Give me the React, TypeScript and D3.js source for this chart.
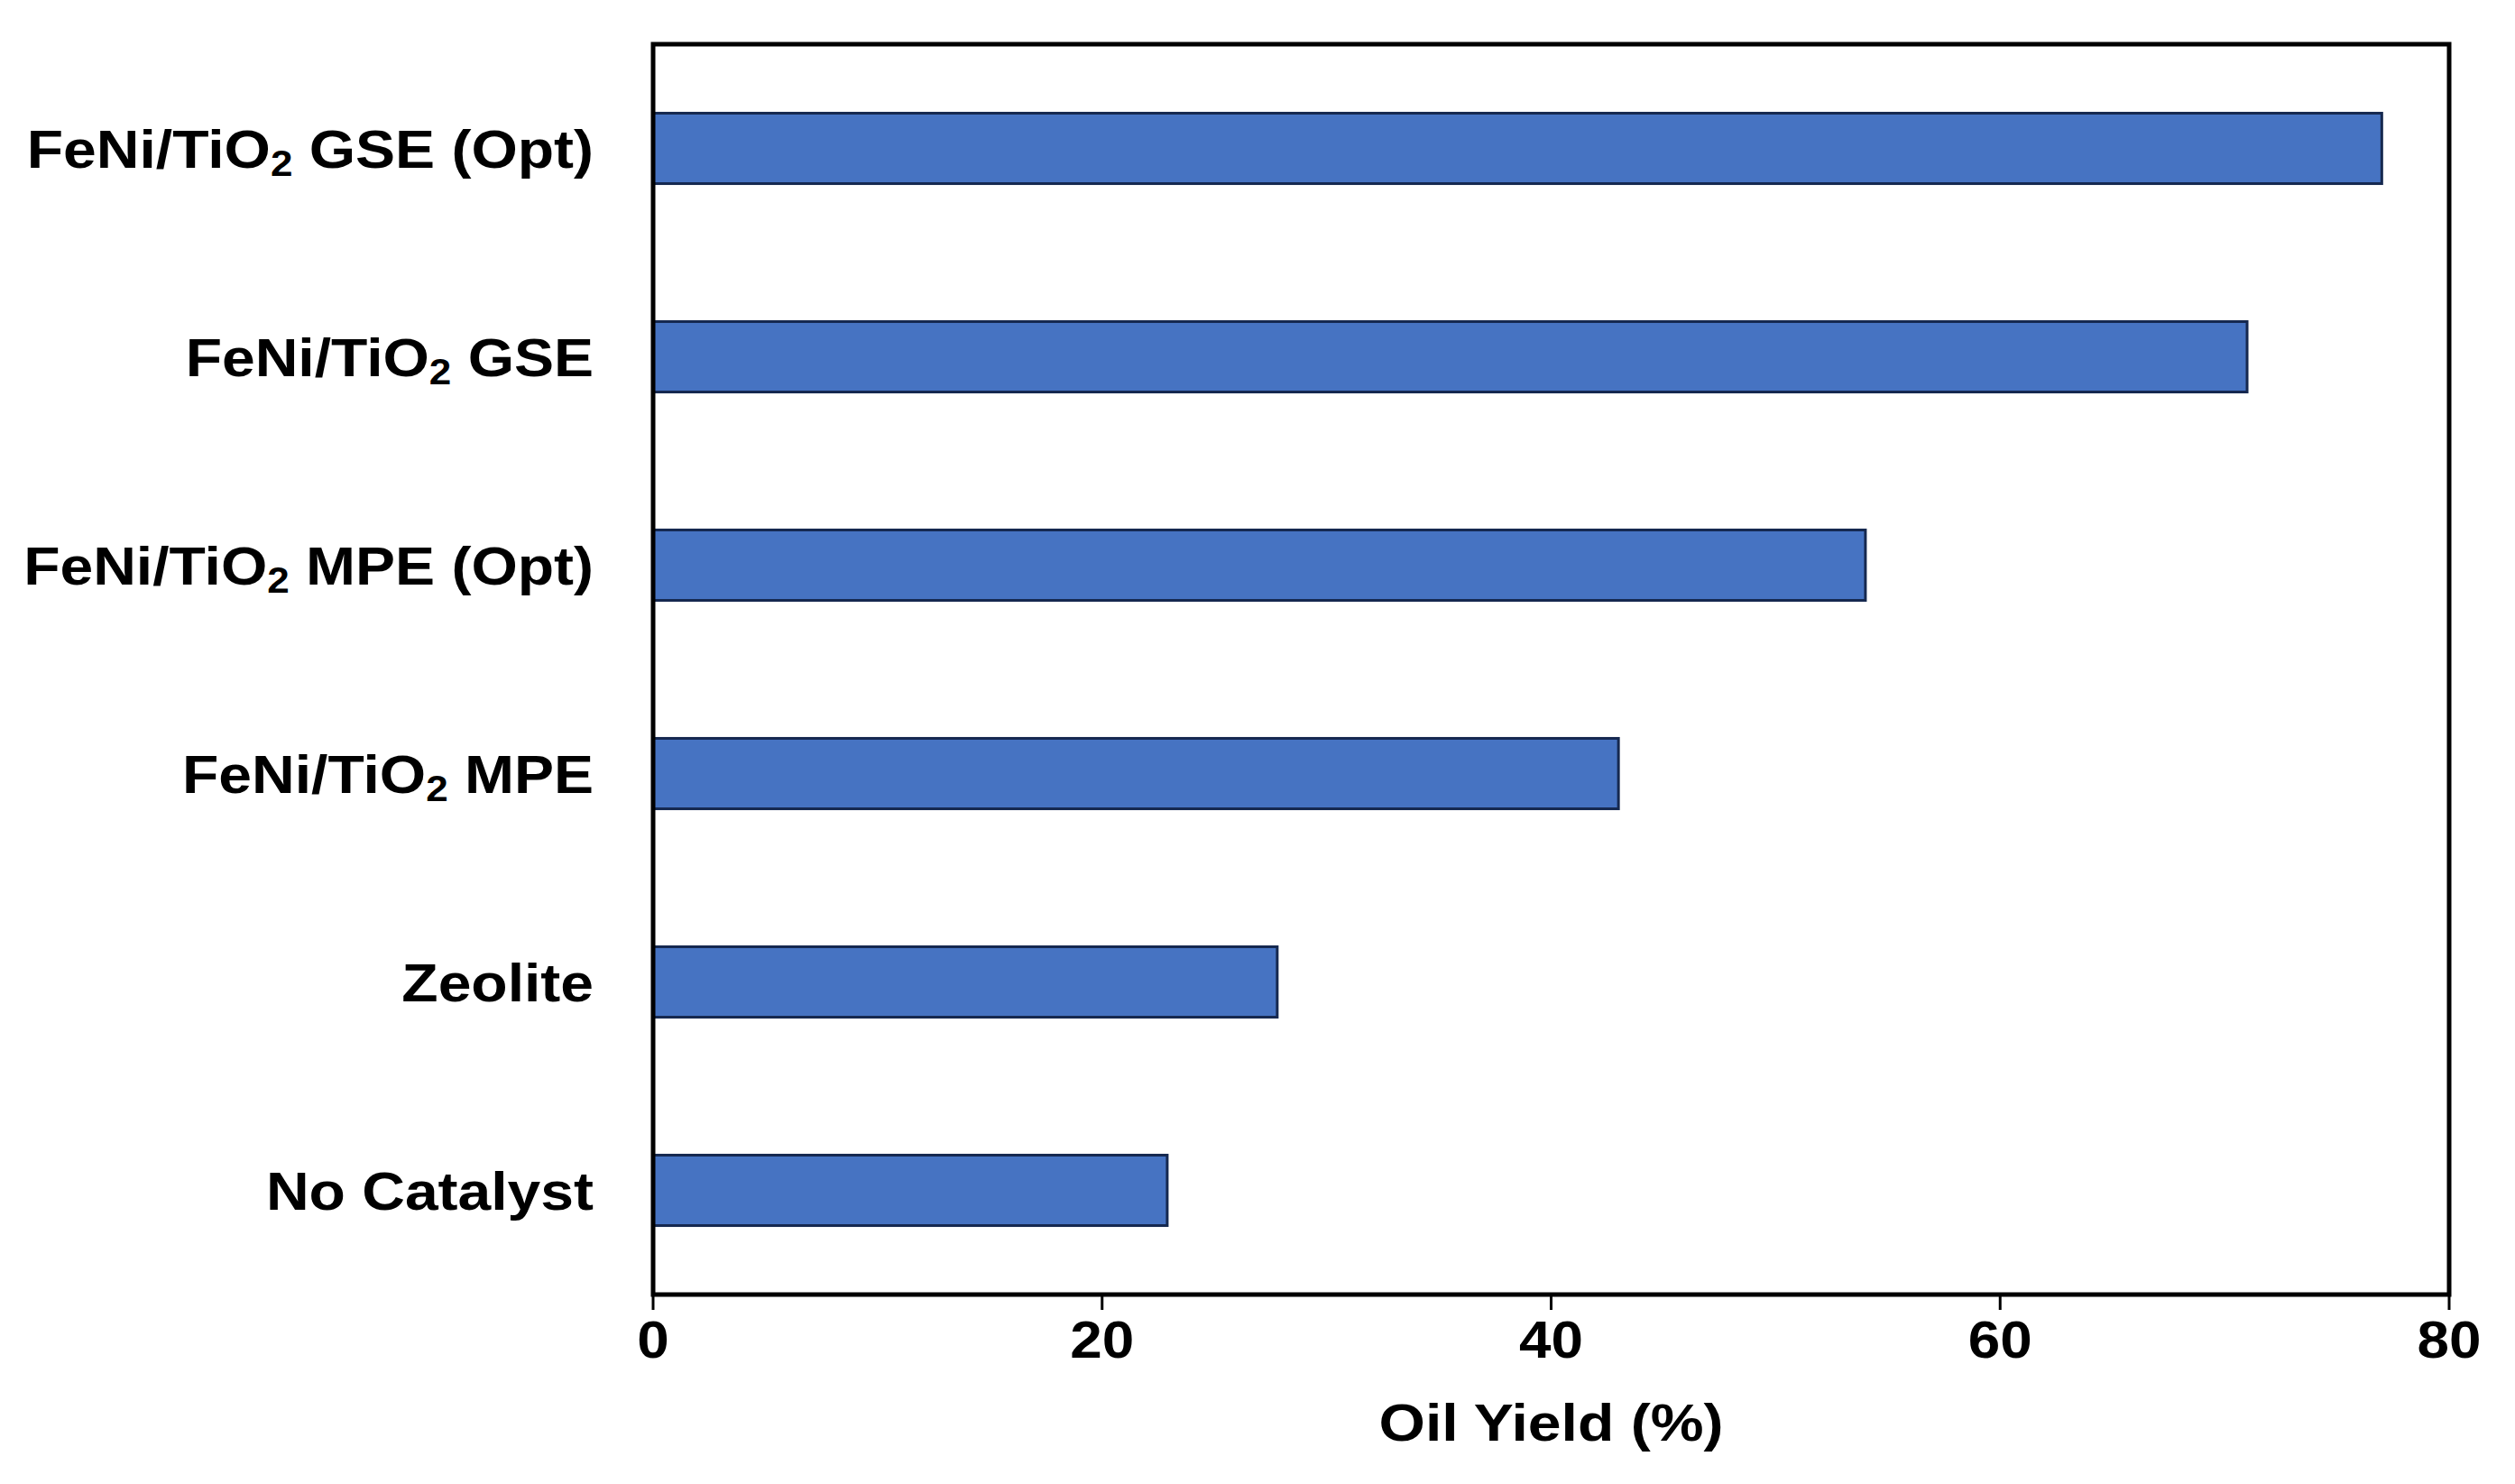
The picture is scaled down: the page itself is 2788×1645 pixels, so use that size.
import React from "react";
import * as d3 from "d3";

const categories = [
  { pre: "FeNi/TiO", sub: "2", post: " GSE (Opt)" },
  { pre: "FeNi/TiO", sub: "2", post: " GSE" },
  { pre: "FeNi/TiO", sub: "2", post: " MPE (Opt)" },
  { pre: "FeNi/TiO", sub: "2", post: " MPE" },
  { pre: "Zeolite", sub: "", post: "" },
  { pre: "No Catalyst", sub: "", post: "" },
];
const oilYield = [77, 71, 54, 43, 27.8, 22.9];
const xTicks = [0, 20, 40, 60, 80];
const xTitle = "Oil Yield (%)";

const W = 2788;
const H = 1645;
const left = 724;
const right = 2715;
const top = 49;
const bottom = 1435;
const FONT = "'Liberation Sans', Arial, Helvetica, sans-serif";

export default function App() {
  const x = d3.scaleLinear().domain([0, 80]).range([left, right]);
  const keys = categories.map((_, i) => String(i));
  const y = d3
    .scaleBand<string>()
    .domain(keys)
    .range([top, bottom])
    .paddingInner(0.662)
    .paddingOuter(0.331);

  const labelX = 658;
  const sx = 1.1;

  return (
    <svg
      width={W}
      height={H}
      viewBox={`0 0 ${W} ${H}`}
      style={{ position: "absolute", left: 0, top: 0, background: "#fff" }}
    >
      <rect x={0} y={0} width={W} height={H} fill="#fff" />
      {oilYield.map((v, i) => (
        <rect
          key={i}
          x={x(0)}
          y={y(String(i))}
          width={x(v) - x(0)}
          height={y.bandwidth()}
          fill="#4673c2"
          stroke="#15284f"
          strokeWidth={3}
        />
      ))}
      <rect
        x={left}
        y={top}
        width={right - left}
        height={bottom - top}
        fill="none"
        stroke="#000"
        strokeWidth={5}
      />
      {xTicks.map((t) => (
        <g key={t}>
          <line
            x1={x(t)}
            x2={x(t)}
            y1={bottom}
            y2={bottom + 17}
            stroke="#000"
            strokeWidth={3}
          />
          <text
            transform={`translate(${x(t)},1505) scale(${sx},1)`}
            textAnchor="middle"
            fontFamily={FONT}
            fontWeight="bold"
            fontSize={58}
            fill="#000"
          >
            {String(t)}
          </text>
        </g>
      ))}
      <text
        transform={`translate(${(left + right) / 2},1597) scale(1.14,1)`}
        textAnchor="middle"
        fontFamily={FONT}
        fontWeight="bold"
        fontSize={58}
        fill="#000"
      >
        {xTitle}
      </text>
      {categories.map((c, i) => {
        const cy = (y(String(i)) as number) + y.bandwidth() / 2;
        return (
          <text
            key={i}
            transform={`translate(${labelX},${cy + 21}) scale(${sx},1)`}
            textAnchor="end"
            fontFamily={FONT}
            fontWeight="bold"
            fontSize={60}
            fill="#000"
          >
            <tspan>{c.pre}</tspan>
            {c.sub ? (
              <tspan fontSize={40} dy={9}>
                {c.sub}
              </tspan>
            ) : null}
            {c.post ? <tspan dy={c.sub ? -9 : 0}>{c.post}</tspan> : null}
          </text>
        );
      })}
    </svg>
  );
}
